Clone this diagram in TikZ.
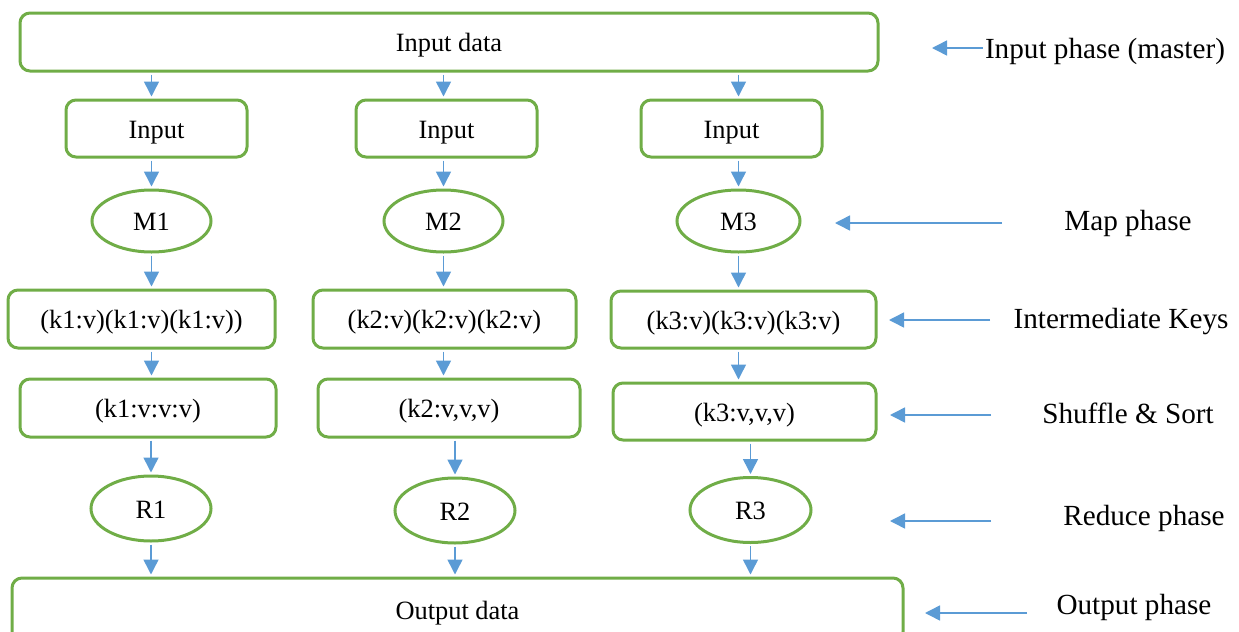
\documentclass[tikz,border=0pt]{standalone}
\usepackage{fontspec}
\setmainfont{Liberation Serif}
\usetikzlibrary{shapes.geometric,arrows.meta}
\definecolor{boxgreen}{HTML}{70AD47}
\definecolor{flowblue}{HTML}{5B9BD5}
\tikzset{every node/.style={inner sep=0pt, text height=9.5pt, text depth=0pt, font=\fontsize{13.2}{15}\selectfont},
  box/.style={draw=boxgreen, line width=1.5pt, rounded corners=5pt, minimum height=28.5pt},
  worker/.style={draw=boxgreen, line width=1.5pt, ellipse, minimum height=31pt, minimum width=59.5pt},
  phase/.style={text height=10.5pt, font=\fontsize{14.6}{17}\selectfont},
  flow/.style={flowblue, line width=0.75pt, -{Triangle[width=7.5pt,length=7.5pt]}, shorten <=1pt, shorten >=1pt}}

\begin{document}
\begin{tikzpicture}[x=0.5pt,y=-0.5pt]
  \useasboundingbox (0,0) rectangle (1239,632);
  \clip (0,0) rectangle (1239,632);
  % master
  \node[box, minimum width=429pt, minimum height=29pt] (data) at (449,42) {Input data};
  % splits
  \node[box, minimum width=90.5pt] (in1) at (156.5,128.5) {Input};
  \node[box, minimum width=90.5pt] (in2) at (446.5,128.5) {Input};
  \node[box, minimum width=90.5pt] (in3) at (731.5,128.5) {Input};
  % mappers
  \node[worker] (m1) at (151.5,221) {M1};
  \node[worker] (m2) at (443.5,221) {M2};
  \node[worker, minimum width=61.5pt] (m3) at (738.5,221) {M3};
  % intermediate keys
  \node[box, minimum width=133.5pt, minimum height=29pt] (k1) at (141.5,319) {(k1:v)(k1:v)(k1:v))};
  \node[box, minimum width=131.5pt, minimum height=29pt] (k2) at (444.5,319) {(k2:v)(k2:v)(k2:v)};
  \node[box, minimum width=132.5pt] (k3) at (743.5,319.5) {(k3:v)(k3:v)(k3:v)};
  % shuffle and sort
  \node[box, minimum width=128pt, minimum height=29pt] (s1) at (148,408) {(k1:v:v:v)};
  \node[box, minimum width=131pt, minimum height=29pt] (s2) at (449,408) {(k2:v,v,v)};
  \node[box, minimum width=131.5pt] (s3) at (744.5,411.5) {(k3:v,v,v)};
  % reducers
  \node[worker, minimum width=60pt, minimum height=32.5pt] (r1) at (151,508.5) {R1};
  \node[worker, minimum width=60pt, minimum height=32.5pt] (r2) at (455,510.5) {R2};
  \node[worker, minimum width=60.5pt, minimum height=32.5pt] (r3) at (750.5,510) {R3};
  % output
  \node[box, minimum width=445.5pt, minimum height=32pt] (out) at (457.5,610) {Output data};

  \foreach \i in {1,2,3} {
    \draw[flow] (m\i |- data.south) -- (m\i |- in\i.north);
    \draw[flow] (m\i |- in\i.south) -- (m\i.north);
    \draw[flow] (m\i.south) -- (m\i |- k\i.north);
    \draw[flow] (m\i |- k\i.south) -- (m\i |- s\i.north);
    \draw[flow] (r\i |- s\i.south) -- (r\i.north);
    \draw[flow] (r\i.south) -- (r\i |- out.north);
  }

  % phase labels
  \node[phase] (lin) at (1105,48) {Input phase (master)};
  \node[phase] (lmap) at (1128,220) {Map phase};
  \node[phase] (lkey) at (1121,318) {Intermediate Keys};
  \node[phase] (lsort) at (1128,413) {Shuffle \& Sort};
  \node[phase] (lred) at (1144,515) {Reduce phase};
  \node[phase] (lout) at (1134,604) {Output phase};

  \coordinate (tin) at (930,48);
  \coordinate (amap) at (1004,223);
  \coordinate (tmap) at (833,223);
  \coordinate (akey) at (992,320);
  \coordinate (tkey) at (887,320);
  \coordinate (asort) at (993,415);
  \coordinate (tsort) at (888,415);
  \coordinate (ared) at (993,521);
  \coordinate (tred) at (888,521);
  \coordinate (aout) at (1029,613);
  \coordinate (tout) at (923,613);
  \draw[flow] (lin.west) -- (tin);
  \draw[flow] (amap) -- (tmap);
  \draw[flow] (akey) -- (tkey);
  \draw[flow] (asort) -- (tsort);
  \draw[flow] (ared) -- (tred);
  \draw[flow] (aout) -- (tout);
\end{tikzpicture}
\end{document}
